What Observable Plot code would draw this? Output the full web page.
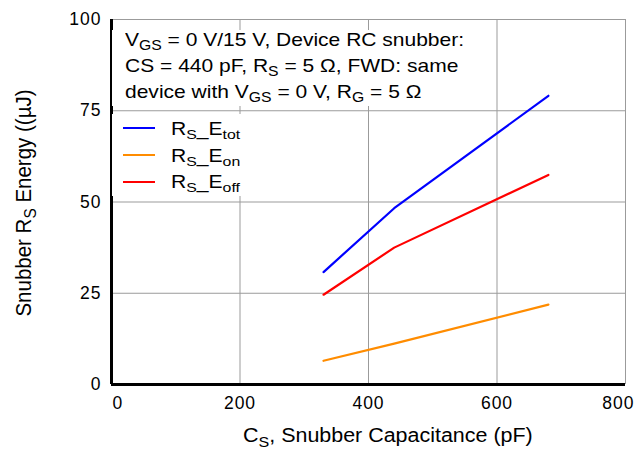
<!DOCTYPE html>
<html>
<head>
<meta charset="utf-8">
<script src="https://cdn.jsdelivr.net/npm/d3@7"></script>
<script src="https://cdn.jsdelivr.net/npm/@observablehq/plot@0.6"></script>
<style>
  html, body { margin: 0; padding: 0; background: #fff; }
  #wrap { position: relative; width: 643px; height: 449px; font-family: "Liberation Sans", Arial, sans-serif; color: #000; }
  #wrap svg text { letter-spacing: 1px; }
  .ov { position: absolute; white-space: nowrap; }
  .box { position: absolute; background: #fff; }
  sub { font-size: 0.75em; line-height: 0; vertical-align: -0.32em; }
  .sw { position: absolute; height: 2.5px; }
</style>
</head>
<body>
<div id="wrap"></div>
<script>
// ---- data ----
const capacitance = [330, 440, 680];          // pF
const rsEtot = [30.8, 48.3, 79.1];            // µJ
const rsEon  = [6.5, 11.2, 21.9];
const rsEoff = [24.6, 37.5, 57.4];
const seriesNames = ["RS_Etot", "RS_Eon", "RS_Eoff"];
const seriesColors = ["#0000ff", "#ff8c00", "#ff0000"];
const xTicks = [0, 200, 400, 600, 800];
const yTicks = [0, 25, 50, 75, 100];

const rows = [];
[rsEtot, rsEon, rsEoff].forEach((vals, si) => {
  vals.forEach((v, i) => rows.push({series: seriesNames[si], c: capacitance[i], e: v}));
});

const gridColor = "#9b9b9b";
const chart = Plot.plot({
  width: 643,
  height: 449,
  marginLeft: 111,
  marginRight: 18,
  marginTop: 19,
  marginBottom: 65,
  style: {fontFamily: "'Liberation Sans', Arial, sans-serif", fontSize: "17.5px", background: "transparent", overflow: "visible"},
  x: {domain: [0, 800], axis: null},
  y: {domain: [0, 100], axis: null},
  color: {domain: seriesNames, range: seriesColors},
  marks: [
    Plot.gridX(xTicks, {stroke: gridColor, strokeOpacity: 1, strokeWidth: 1}),
    Plot.gridY(yTicks, {stroke: gridColor, strokeOpacity: 1, strokeWidth: 1}),
    Plot.axisY(yTicks, {tickSize: 0, tickPadding: 10, label: null, fontSize: 17.5}),
    Plot.text(xTicks.slice(1, -1), {x: d => d, frameAnchor: "bottom", lineAnchor: "top", dy: 12, fontSize: 17.5}),
    Plot.text(xTicks.slice(0, 1), {x: d => d, frameAnchor: "bottom", lineAnchor: "top", textAnchor: "start", dx: 1, dy: 12, fontSize: 17.5}),
    Plot.text(xTicks.slice(-1), {x: d => d, frameAnchor: "bottom", lineAnchor: "top", textAnchor: "end", dx: 9, dy: 12, fontSize: 17.5}),
    Plot.line(rows, {x: "c", y: "e", z: "series", stroke: "series", strokeWidth: 2.2}),
    Plot.ruleX([0], {stroke: "#000", strokeWidth: 3}),
    Plot.ruleY([0], {stroke: "#000", strokeWidth: 3})
  ]
});
const wrap = document.getElementById("wrap");
wrap.appendChild(chart);

// ---- overlays: annotation box, legend, axis titles ----
function add(html, css, cls) {
  const d = document.createElement("div");
  d.className = cls || "ov";
  d.innerHTML = html;
  Object.assign(d.style, css);
  wrap.appendChild(d);
  return d;
}
add("", {left: "112px", top: "30px", width: "362px", height: "76px"}, "box");
add("V<sub>GS</sub> = 0 V/15 V, Device RC snubber:<br>CS = 440 pF, R<sub>S</sub> = 5 Ω, FWD: same<br>device with V<sub>GS</sub> = 0 V, R<sub>G</sub> = 5 Ω",
    {left: "125px", top: "27px", fontSize: "18.6px", lineHeight: "26px", transform: "scaleX(1.13)", transformOrigin: "0 0"});

add("", {left: "112px", top: "114px", width: "134px", height: "82px"}, "box");
const legendLabels = ["R<sub>S</sub>_E<sub>tot</sub>", "R<sub>S</sub>_E<sub>on</sub>", "R<sub>S</sub>_E<sub>off</sub>"];
seriesNames.forEach((s, i) => {
  add("", {left: "123px", top: (126.5 + i * 27) + "px", width: "32px", background: seriesColors[i]}, "sw");
  add(legendLabels[i], {left: "171px", top: (116 + i * 26.5) + "px", fontSize: "18.2px", lineHeight: "26px", transform: "scaleX(1.16)", transformOrigin: "0 0"});
});

add("C<sub>S</sub>, Snubber Capacitance (pF)",
    {left: "243px", top: "422px", fontSize: "19.5px", lineHeight: "26px", transform: "scaleX(1.1)", transformOrigin: "0 0"});

add("Snubber R<sub>S</sub> Energy ((µJ)",
    {left: "-127px", top: "190px", width: "300px", textAlign: "center", fontSize: "20.5px", lineHeight: "26px", transform: "rotate(-90deg) scaleY(1.1)", transformOrigin: "50% 50%"});
</script>
</body>
</html>
